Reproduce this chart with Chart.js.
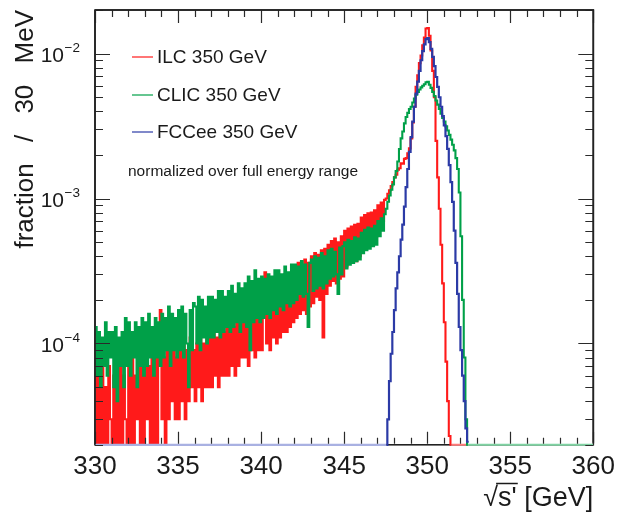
<!DOCTYPE html>
<html><head><meta charset="utf-8">
<script src="https://cdn.jsdelivr.net/npm/chart.js@4.4.1/dist/chart.umd.min.js"></script>
<style>html,body{margin:0;padding:0;background:#fff;overflow:hidden}canvas{display:block}</style>
</head><body>
<canvas id="c" width="621" height="515"></canvas>
<script>
// ---- data (fraction per 30 MeV; values in units of 1e-5) ----
const VALUE_UNIT = 1e-5;
const BIN_WIDTH = 0.1;            // GeV per plotted bin
const X_RANGE = [330, 360];
const Y_RANGE = [2e-5, 2e-2];
const SERIES_NAMES = ['ILC 350 GeV', 'CLIC 350 GeV', 'FCCee 350 GeV'];
const NOTE_TEXT = 'normalized over full energy range';
const X_TITLE = "\u221As' [GeV]";
const Y_TITLE = 'fraction / 30 MeV';
const X_TICKS = [330, 335, 340, 345, 350, 355, 360];
const Y_DECADES = [1e-4, 1e-3, 1e-2];
const Y_DECADE_EXPONENTS = ['\u22124', '\u22123', '\u22122'];

// ILC: bins from 330.0 GeV, empty afterwards up to 352.4 GeV
const ILC_FIRST_BIN = 330.0;
const ILC_EMPTY_UNTIL = 352.4;
const ILC_VALUES = [
  7, 0, 6, 2, 8, 0, 5, 0, 7, 3,
  0, 6, 2, 8, 0, 7, 0, 6, 3, 0,
  7, 2, 8, 0, 6, 3, 8, 0, 7, 2,
  8, 3, 7, 0, 8, 2, 9, 0, 8, 17,
  3, 8, 0, 9, 3, 8, 4, 9, 3, 8,
  3, 9, 4, 10, 3, 9, 4, 11, 5, 9,
  4, 10, 5, 11, 4, 10, 5, 12, 5, 11,
  5, 12, 6, 11, 5, 13, 6, 12, 6, 13,
  6, 14, 7, 13, 6, 15, 7, 14, 8, 15,
  8, 16, 7, 17, 9, 16, 8, 18, 9, 17,
  9, 19, 31, 10, 20, 9, 21, 11, 19, 10,
  25, 11, 28, 12, 30, 12, 27, 13, 31, 14,
  33, 15, 36, 16, 34, 17, 38, 16, 36, 18,
  40, 19, 42, 21, 41, 20, 44, 11, 45, 22,
  48, 25, 51, 27, 53, 26, 50, 28, 55, 29,
  60, 34, 62, 36, 64, 38, 66, 37, 67, 40,
  74, 46, 77, 48, 79, 50, 80, 52, 83, 55,
  90, 65, 94, 70, 98, 100, 108, 114, 122, 130,
  140, 146, 158, 162, 175, 174, 188, 190, 205, 222,
  260, 335, 430, 590, 710, 860, 970, 1140, 1290, 1490,
  1500, 1330, 1050, 760, 500, 250, 140, 85, 48, 26,
  14, 7.5, 4, 2.3
];

// CLIC: bins from 330.0 GeV, empty afterwards up to 360 GeV
const CLIC_FIRST_BIN = 330.0;
const CLIC_EMPTY_UNTIL = 360;
const CLIC_VALUES = [
  13, 6, 12, 5, 11, 7, 14, 6, 12, 8,
  12, 5, 13, 4, 11, 7, 12, 5, 15, 7,
  14, 6, 12, 8, 14, 5, 13, 7, 15, 6,
  14, 7, 16, 8, 13, 6, 15, 8, 14, 7,
  16, 8, 15, 9, 18, 7, 16, 9, 15, 8,
  17, 9, 18, 8, 16, 10, 5, 17, 9, 19,
  18, 10, 21, 9, 20, 11, 18, 10, 21, 11,
  21, 11, 20, 12, 23, 11, 23, 12, 21, 13,
  23, 12, 25, 13, 22, 14, 26, 12, 24, 14,
  26, 13, 29, 9, 27, 14, 32, 15, 28, 14,
  29, 15, 28, 16, 30, 15, 29, 17, 32, 16,
  32, 18, 30, 17, 34, 19, 31, 18, 35, 19,
  35, 20, 34, 22, 37, 21, 35, 22, 13, 36,
  38, 23, 40, 24, 39, 25, 42, 24, 40, 26,
  44, 28, 45, 29, 43, 30, 22, 46, 30, 47,
  50, 33, 52, 35, 51, 36, 54, 37, 53, 38,
  58, 42, 61, 44, 63, 45, 62, 47, 65, 48,
  70, 55, 73, 60, 78, 85, 95, 105, 115, 125,
  140, 155, 180, 220, 260, 290, 330, 365, 390, 415,
  430, 460, 490, 520, 545, 565, 585, 600, 615, 635,
  640, 610, 580, 545, 510, 475, 445, 415, 385, 360,
  340, 315, 295, 275, 255, 235, 215, 190, 160, 110,
  55, 20, 8, 3
];

// FCCee: empty from 330 GeV, bins from 347.6 GeV
const FCC_EMPTY_FROM = 330;
const FCC_FIRST_BIN = 347.6;
const FCC_VALUES = [
  3.0, 5.5, 8.5, 12,
  17, 24, 31, 40, 52, 66, 88, 120, 160, 210,
  265, 340, 430, 530, 640, 760, 900, 1040, 1160, 1260,
  1280, 1200, 1080, 950, 820, 690, 590, 500, 430, 370,
  320, 270, 220, 170, 130, 95, 60, 36, 22, 13,
  9, 6, 4, 2.6, 2.1
];

// ---- histogram outline points (empty bins are drawn on the lower frame, as in ROOT) ----
function histPoints(firstBin, values, emptyFrom, emptyUntil) {
  const floor = Y_RANGE[0];
  const pts = [];
  if (emptyFrom != null) {
    pts.push({x: emptyFrom, y: floor});
    pts.push({x: firstBin - BIN_WIDTH / 2, y: floor});
  } else {
    pts.push({x: firstBin, y: Math.max(values[0] * VALUE_UNIT, floor)});
  }
  values.forEach((v, i) => pts.push({x: firstBin + (i + 0.5) * BIN_WIDTH, y: Math.max(v * VALUE_UNIT, floor)}));
  const end = firstBin + values.length * BIN_WIDTH;
  if (emptyUntil != null) {
    pts.push({x: end + BIN_WIDTH / 2, y: floor});
    pts.push({x: emptyUntil, y: floor});
  } else {
    pts.push({x: end, y: Math.max(values[values.length - 1] * VALUE_UNIT, floor)});
  }
  return pts;
}

const COLORS = ['#ff1a1a', '#00a048', '#2b3aa6'];
const FLOOR_COLORS = ['#ff7a7a', '#80d3a3', '#a9b1e2'];
const FONT = "'Liberation Sans', Arial, Helvetica, sans-serif";

const decor = {
  id: 'decor',
  beforeDatasetsDraw(chart) {
    const {ctx, chartArea: a} = chart;
    ctx.save();
    ctx.lineWidth = 1.6;
    ctx.strokeStyle = '#222';
    ctx.strokeRect(a.left, a.top, a.right - a.left, a.bottom - a.top);
    ctx.restore();
  },
  afterDatasetsDraw(chart) {
    const {ctx, chartArea: a, scales: {x, y}} = chart;
    ctx.save();
    // inward ticks on all four sides
    ctx.strokeStyle = '#2a2a2a';
    ctx.lineWidth = 1.2;
    ctx.beginPath();
    for (let v = X_RANGE[0]; v <= X_RANGE[1]; v += 1) {
      const px = Math.round(x.getPixelForValue(v)) + 0.5;
      const len = (v % 5 === 0) ? 13 : 7;
      ctx.moveTo(px, a.bottom - 1); ctx.lineTo(px, a.bottom - len);
      ctx.moveTo(px, a.top); ctx.lineTo(px, a.top + len);
    }
    [1e-5, 1e-4, 1e-3, 1e-2].forEach(d => {
      for (let m = 1; m <= 9; m++) {
        const v = m * d;
        if (v < Y_RANGE[0] * 0.999 || v > Y_RANGE[1] * 1.001) continue;
        const py = Math.round(y.getPixelForValue(v)) + 0.5;
        const len = (m === 1) ? 15 : 8;
        ctx.moveTo(a.left, py); ctx.lineTo(a.left + len, py);
        ctx.moveTo(a.right, py); ctx.lineTo(a.right - len, py);
      }
    });
    ctx.stroke();
    ctx.lineWidth = 1.6;
    ctx.strokeStyle = '#222';
    ctx.beginPath();
    ctx.moveTo(a.left, a.top); ctx.lineTo(a.right, a.top); ctx.lineTo(a.right, a.bottom - 2);
    ctx.moveTo(a.left, a.top); ctx.lineTo(a.left, a.bottom);
    ctx.stroke();

    ctx.fillStyle = '#1a1a1a';
    // y tick labels 10^n
    Y_DECADES.forEach((d, i) => {
      const py = y.getPixelForValue(d);
      ctx.font = '21px ' + FONT;
      ctx.textAlign = 'right';
      ctx.textBaseline = 'middle';
      ctx.fillText('10', 64, py + 3);
      ctx.font = '13.5px ' + FONT;
      ctx.textAlign = 'left';
      ctx.fillText(Y_DECADE_EXPONENTS[i], 64.5, py - 5);
    });
    // axis titles
    ctx.font = '26px ' + FONT;
    ctx.textAlign = 'right';
    ctx.textBaseline = 'alphabetic';
    ctx.save();
    ctx.translate(33, a.top);
    ctx.rotate(-Math.PI / 2);
    if ('wordSpacing' in ctx) ctx.wordSpacing = '14px';
    ctx.fillText(Y_TITLE, 0, 0);
    ctx.restore();
    ctx.font = '27px ' + FONT;
    ctx.fillText(X_TITLE, a.right, 506);
    // overbar of the square root
    const wAll = ctx.measureText(X_TITLE).width;
    const wRoot = ctx.measureText('\u221A').width;
    const wS = ctx.measureText("\u221As'").width;
    ctx.strokeStyle = '#1a1a1a';
    ctx.lineWidth = 1.5;
    ctx.beginPath();
    ctx.moveTo(a.right - wAll + wRoot - 2, 483.5);
    ctx.lineTo(a.right - wAll + wS + 1, 483.5);
    ctx.stroke();
    // legend
    const legendY = [57, 95, 132];
    ctx.font = '19px ' + FONT;
    ctx.textAlign = 'left';
    ctx.textBaseline = 'middle';
    SERIES_NAMES.forEach((name, i) => {
      ctx.strokeStyle = COLORS[i];
      ctx.globalAlpha = 0.6;
      ctx.lineWidth = 2;
      ctx.beginPath();
      ctx.moveTo(132, legendY[i]); ctx.lineTo(153, legendY[i]);
      ctx.stroke();
      ctx.globalAlpha = 1;
      ctx.fillText(name, 157, legendY[i] + 1);
    });
    ctx.font = '15.5px ' + FONT;
    ctx.fillText(NOTE_TEXT, 128, 172);
    ctx.restore();
  }
};

const atFloor = p => p.parsed.y <= Y_RANGE[0] * 1.0001;
const ds = (label, data, i, order, width) => ({
  label, data, borderColor: COLORS[i], backgroundColor: COLORS[i], borderWidth: width,
  pointRadius: 0, stepped: 'middle', fill: false, order, tension: 0,
  clip: {left: 0, top: 0, right: 0, bottom: 2},
  segment: {borderColor: c => (atFloor(c.p0) && atFloor(c.p1)) ? FLOOR_COLORS[i] : undefined}
});

new Chart(document.getElementById('c'), {
  type: 'line',
  data: {
    datasets: [
      ds(SERIES_NAMES[0], histPoints(ILC_FIRST_BIN, ILC_VALUES, null, ILC_EMPTY_UNTIL), 0, 2, 2.1),
      ds(SERIES_NAMES[1], histPoints(CLIC_FIRST_BIN, CLIC_VALUES, null, CLIC_EMPTY_UNTIL), 1, 1, 2.1),
      ds(SERIES_NAMES[2], histPoints(FCC_FIRST_BIN, FCC_VALUES, FCC_EMPTY_FROM, null), 2, 0, 2.2)
    ]
  },
  options: {
    responsive: false,
    animation: false,
    devicePixelRatio: 1,
    layout: {padding: {left: 95, top: 10, right: 24, bottom: 27}},
    plugins: {legend: {display: false}, tooltip: {enabled: false}},
    scales: {
      x: {
        type: 'linear', min: X_RANGE[0], max: X_RANGE[1],
        afterBuildTicks: s => { s.ticks = X_TICKS.map(v => ({value: v})); },
        ticks: {font: {size: 26, family: FONT}, color: '#1a1a1a', padding: 6, maxRotation: 0, autoSkip: false},
        grid: {display: false, drawTicks: false},
        border: {display: false}
      },
      y: {
        type: 'logarithmic', min: Y_RANGE[0], max: Y_RANGE[1],
        display: false
      }
    }
  },
  plugins: [decor]
});
</script>
</body></html>
